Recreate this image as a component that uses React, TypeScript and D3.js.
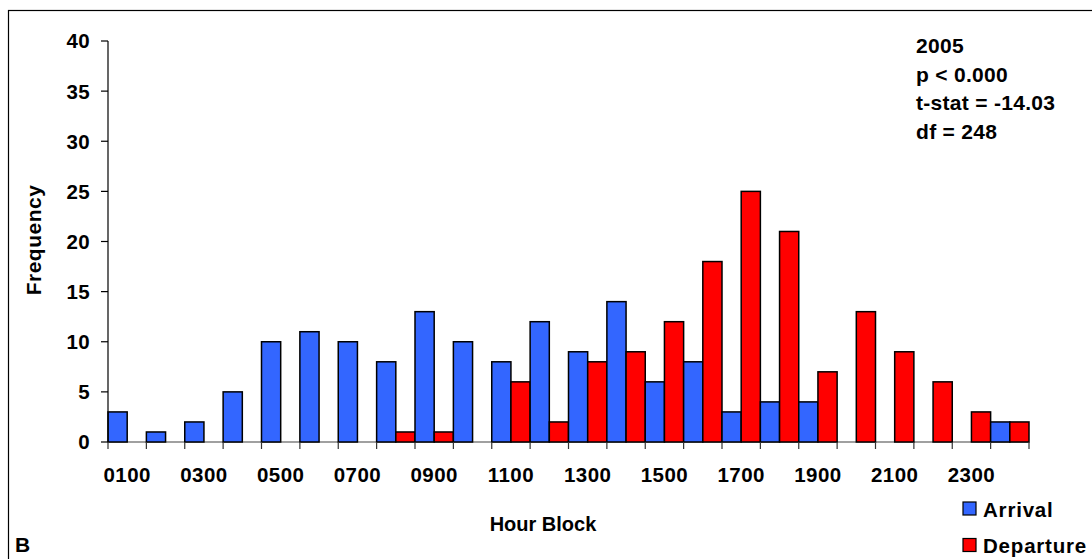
import { useEffect, useRef } from 'react';
import * as d3 from 'd3';

const hourBlocks = [
  "0100", "0200", "0300", "0400", "0500", "0600", "0700", "0800",
  "0900", "1000", "1100", "1200", "1300", "1400", "1500", "1600",
  "1700", "1800", "1900", "2000", "2100", "2200", "2300", "2400",
];
const arrival = [3, 1, 2, 5, 10, 11, 10, 8, 13, 10, 8, 12, 9, 14, 6, 8, 3, 4, 4, 0, 0, 0, 0, 2];
const departure = [0, 0, 0, 0, 0, 0, 0, 1, 1, 0, 6, 2, 8, 9, 12, 18, 25, 21, 7, 13, 9, 6, 3, 2];
const seriesNames = ["Arrival", "Departure"];
const seriesColors = ["#3366FF", "#FF0000"];
const yTicks = [0, 5, 10, 15, 20, 25, 30, 35, 40];
const statLines = ["2005", "p < 0.000", "t-stat = -14.03", "df = 248"];

const FONT = "'Liberation Sans', Arial, Helvetica, sans-serif";

const App = () => {
  const svgRef = useRef<SVGSVGElement>(null);

  useEffect(() => {
    if (!svgRef.current) return;
    const svg = d3.select(svgRef.current);
    svg.selectAll("*").remove();

    const left = 108, right = 1029, top = 41, bottom = 442;

    const x = d3.scaleBand().domain(hourBlocks).range([left, right]).padding(0);
    const xInner = d3.scaleBand().domain(seriesNames).range([0, x.bandwidth()]).padding(0);
    const y = d3.scaleLinear().domain([0, 40]).range([bottom, top]);

    // outer frame (only left/top visible in the original)
    svg.append("rect")
      .attr("x", 8.5).attr("y", 10.5)
      .attr("width", 1200).attr("height", 700)
      .attr("fill", "none").attr("stroke", "#000").attr("stroke-width", 1.2);

    // x baseline
    svg.append("line")
      .attr("x1", left).attr("x2", right)
      .attr("y1", bottom).attr("y2", bottom)
      .attr("stroke", "#808080").attr("stroke-width", 1.5);

    // bars
    const rows = hourBlocks.map((h, i) => ({ h, vals: [arrival[i], departure[i]] }));
    const g = svg.append("g");
    rows.forEach(r => {
      r.vals.forEach((v, si) => {
        if (v <= 0) return;
        g.append("rect")
          .attr("x", x(r.h)! + xInner(seriesNames[si])!)
          .attr("y", y(v))
          .attr("width", xInner.bandwidth())
          .attr("height", y(0) - y(v))
          .attr("fill", seriesColors[si])
          .attr("stroke", "#000")
          .attr("stroke-width", 1.5);
      });
    });

    // y axis
    svg.append("line")
      .attr("x1", left).attr("x2", left)
      .attr("y1", y(40)).attr("y2", y(0))
      .attr("stroke", "#000").attr("stroke-width", 1.2);
    yTicks.forEach(t => {
      svg.append("line")
        .attr("x1", left - 7).attr("x2", left)
        .attr("y1", y(t)).attr("y2", y(t))
        .attr("stroke", "#000").attr("stroke-width", 1.2);
      svg.append("text")
        .attr("x", 90).attr("y", y(t)).attr("dy", "0.36em")
        .attr("text-anchor", "end")
        .attr("font-family", FONT).attr("font-weight", "bold").attr("font-size", 20.5)
        .attr("letter-spacing", 0.4)
        .text(String(t));
    });

    // x ticks at category boundaries
    const edges = hourBlocks.map(h => x(h)!).concat([right]);
    edges.forEach(e => {
      svg.append("line")
        .attr("x1", e).attr("x2", e)
        .attr("y1", bottom).attr("y2", bottom + 7)
        .attr("stroke", "#333").attr("stroke-width", 1.2);
    });
    hourBlocks.forEach((h, i) => {
      if (i % 2 !== 0) return;
      svg.append("text")
        .attr("x", x(h)! + x.bandwidth() / 2).attr("y", 482)
        .attr("text-anchor", "middle")
        .attr("font-family", FONT).attr("font-weight", "bold").attr("font-size", 20.5)
        .attr("letter-spacing", 0.5)
        .text(h);
    });

    // axis titles
    svg.append("text")
      .attr("x", 543).attr("y", 531)
      .attr("text-anchor", "middle")
      .attr("font-family", FONT).attr("font-weight", "bold").attr("font-size", 20)
      .text("Hour Block");
    svg.append("text")
      .attr("transform", "translate(41,240) rotate(-90)")
      .attr("text-anchor", "middle")
      .attr("font-family", FONT).attr("font-weight", "bold").attr("font-size", 21)
      .attr("letter-spacing", 0.5)
      .text("Frequency");

    // panel letter
    svg.append("text")
      .attr("x", 15).attr("y", 552)
      .attr("font-family", FONT).attr("font-weight", "bold").attr("font-size", 21)
      .text("B");

    // stats annotation
    statLines.forEach((s, i) => {
      svg.append("text")
        .attr("x", 916).attr("y", 53 + i * 28.5)
        .attr("font-family", FONT).attr("font-weight", "bold").attr("font-size", 21)
        .attr("letter-spacing", 0.3)
        .text(s);
    });

    // legend
    seriesNames.forEach((n, i) => {
      const ly = 502 + i * 36.5;
      svg.append("rect")
        .attr("x", 963).attr("y", ly)
        .attr("width", 13).attr("height", 13)
        .attr("fill", seriesColors[i]).attr("stroke", "#000").attr("stroke-width", 1.2);
      svg.append("text")
        .attr("x", 983).attr("y", ly + 14.5)
        .attr("font-family", FONT).attr("font-weight", "bold").attr("font-size", 20.5)
        .attr("letter-spacing", 0.8)
        .text(n);
    });
  }, []);

  return (
    <div style={{ position: "fixed", left: 0, top: 0 }}>
      <svg ref={svgRef} width={1092} height={559} style={{ display: "block", background: "#fff" }}></svg>
    </div>
  );
};

export default App;
